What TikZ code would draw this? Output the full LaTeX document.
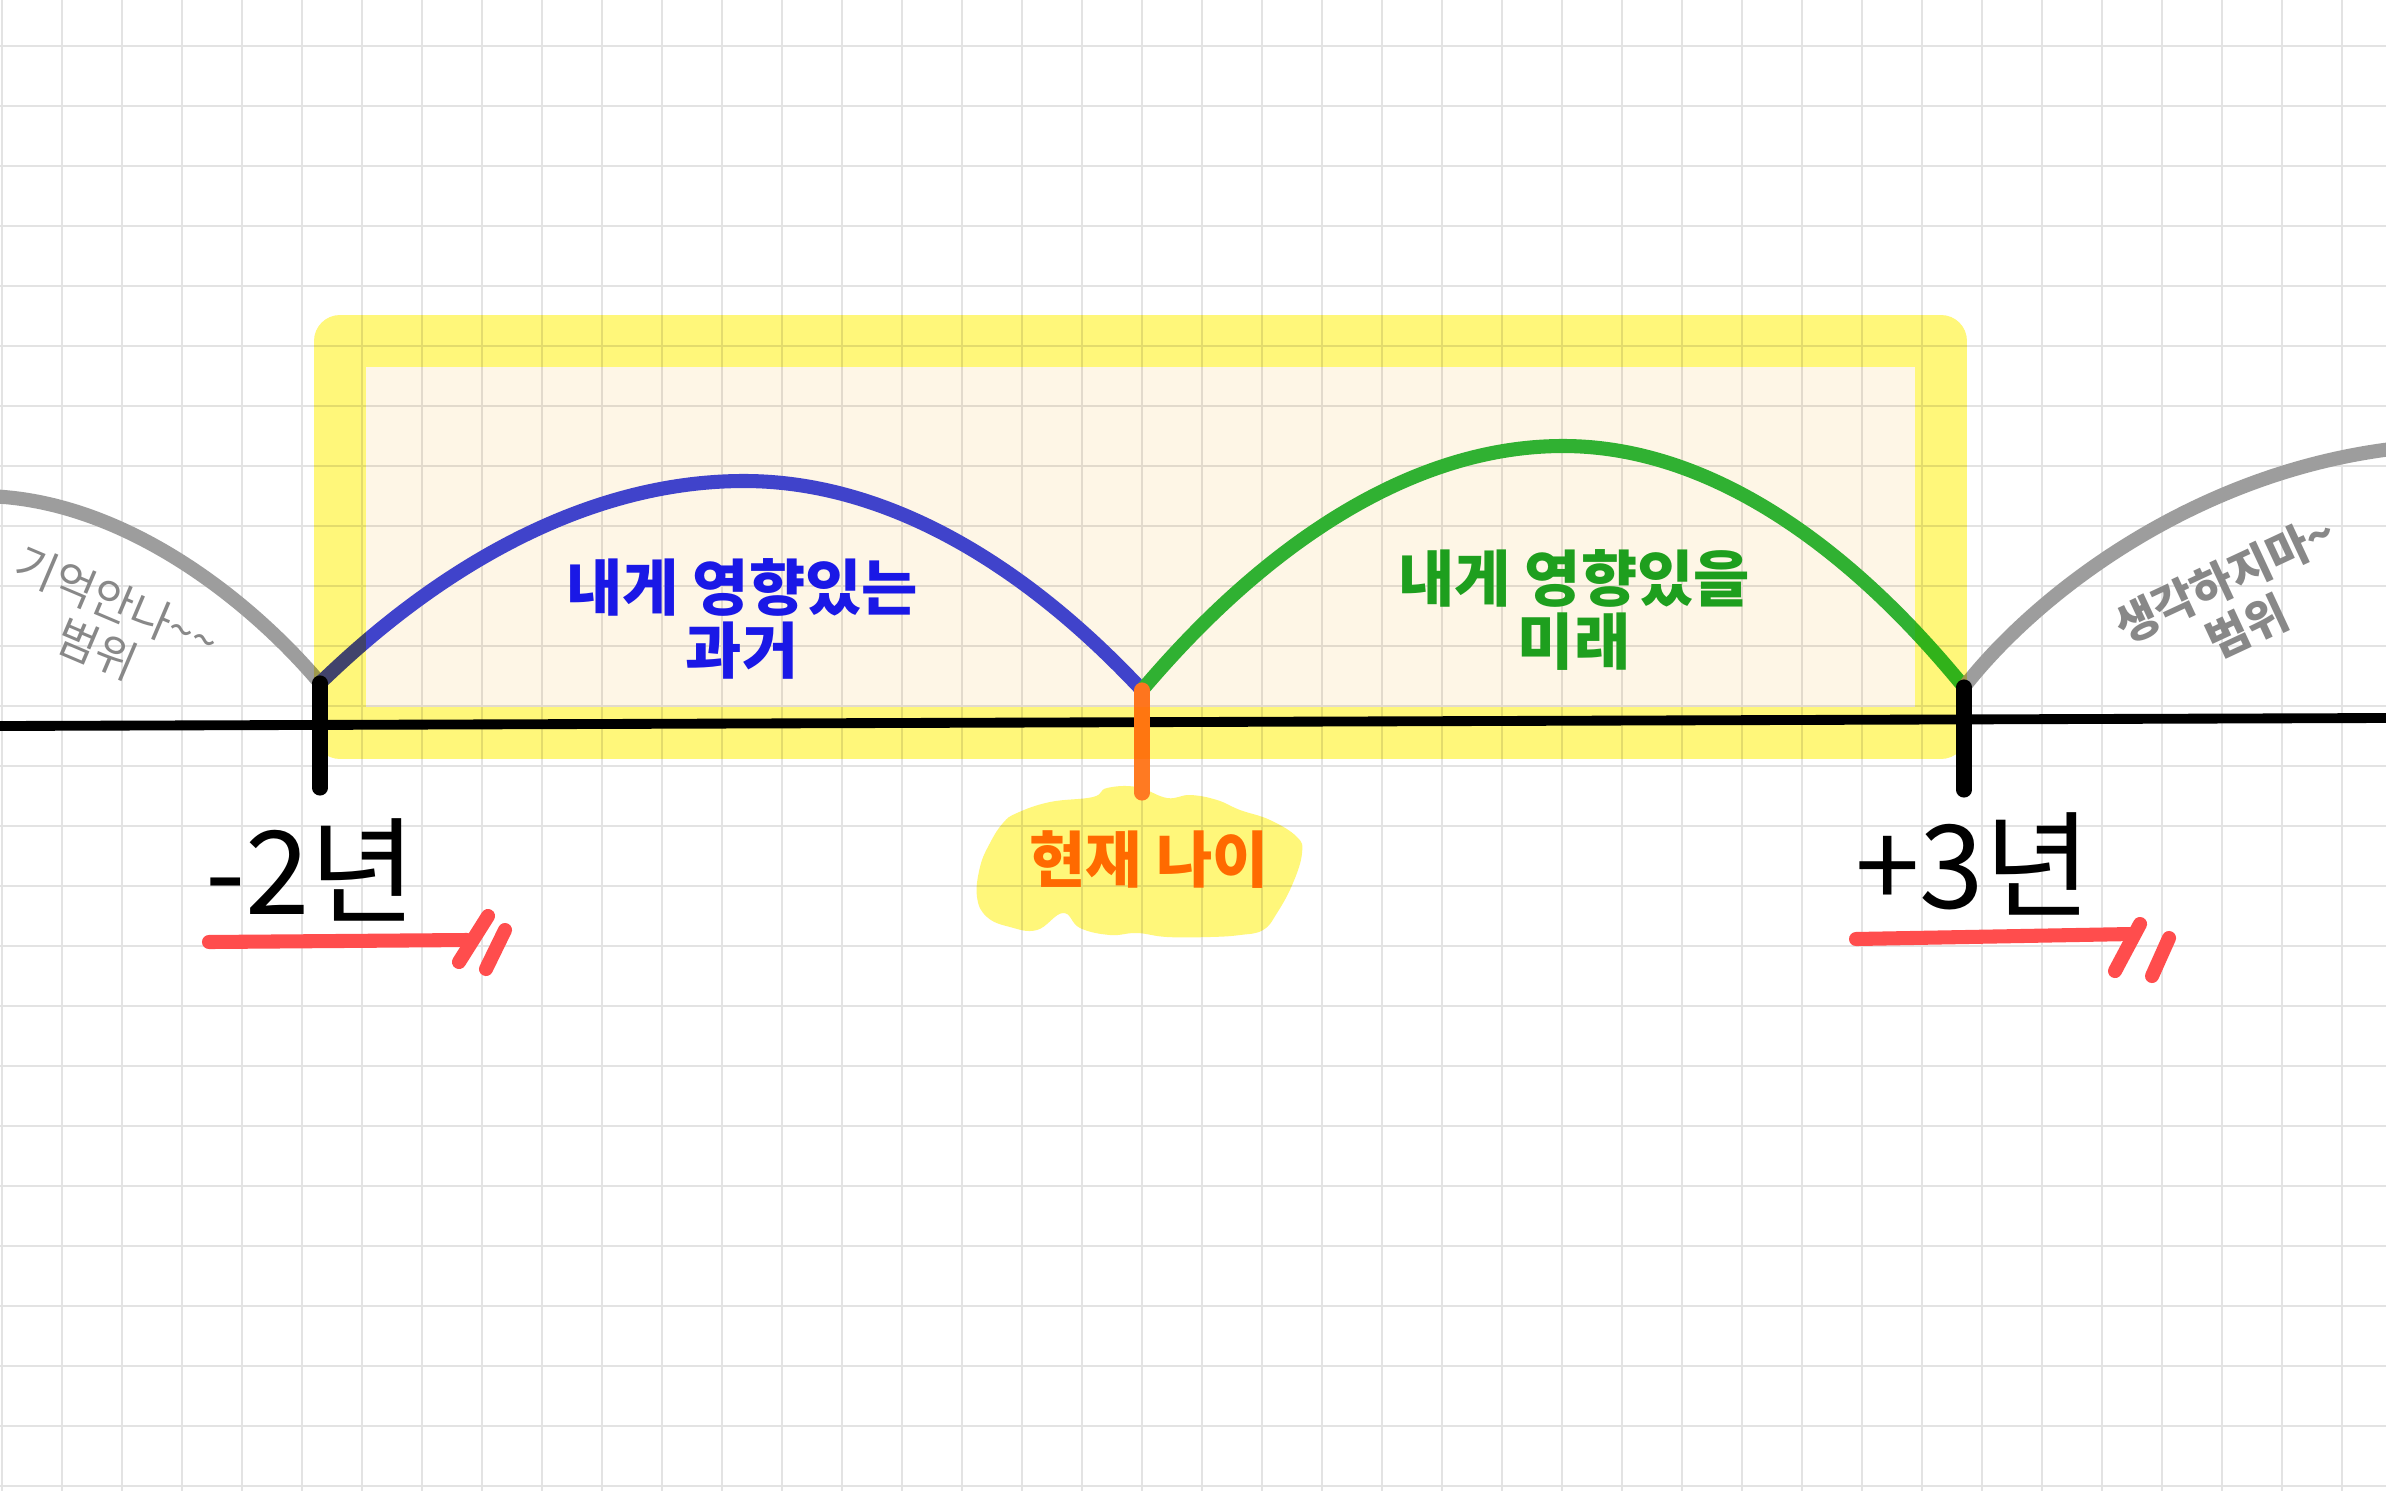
\documentclass[tikz,border=0pt]{standalone}
\usepackage{fontspec}
\newfontfamily\kr{Noto Sans CJK KR}
\definecolor{gridgray}{HTML}{E3E3E3}
\definecolor{bandyellow}{HTML}{FFF77A}
\definecolor{cream}{HTML}{FEF6E6}
\definecolor{pastblue}{HTML}{4146E2}
\definecolor{pasttext}{HTML}{1A18E6}
\definecolor{futgreen}{HTML}{31B838}
\definecolor{futtext}{HTML}{1E9F1E}
\definecolor{rangegray}{HTML}{9D9D9D}
\definecolor{rangetext}{HTML}{888888}
\definecolor{nowtick}{HTML}{FF7A22}
\definecolor{nowtext}{HTML}{FF6A00}
\definecolor{markred}{HTML}{FF4D4D}

\begin{document}
\begin{tikzpicture}[x=0.01cm,y=-0.01cm,
  span/.style={line width=4pt},
  yearmark/.style={line width=4.3pt,line cap=round},
  cut/.style={markred,line width=4pt,line cap=round},
  big/.style={font=\kr\fontsize{33}{36}\selectfont},
  note/.style={font=\kr\bfseries\fontsize{17.4}{17.8}\selectfont,align=center},
  side/.style={rangetext,font=\kr\fontsize{12.8}{14.5}\selectfont,align=center}]
\fill[white] (0,0) rectangle (2386,1491);
\useasboundingbox (0,0) rectangle (2386,1491);
\foreach \gx in {2,62,...,2386} \draw[gridgray,line width=0.7pt] (\gx,0) -- (\gx,1491);
\foreach \gy in {46,106,...,1491} \draw[gridgray,line width=0.7pt] (0,\gy) -- (2386,\gy);

\coordinate (past) at (320,683);
\coordinate (now) at (1142,690);
\coordinate (fut) at (1964,687);
\coordinate (lend) at (-20,496);
\coordinate (rend) at (2400,448);
\coordinate (axl) at (0,726);
\coordinate (axr) at (2386,718);

\begin{scope}[blend mode=multiply]
\fill[bandyellow] plot[smooth cycle,tension=0.7] coordinates {(1017,813) (1050,802) (1093,797) (1107,788) (1137,787) (1167,798) (1190,795) (1217,800) (1240,810) (1270,820) (1297,837) (1302,853) (1293,883) (1277,913) (1263,930) (1240,935) (1210,937) (1167,937) (1137,933) (1110,935) (1080,928) (1063,913) (1037,930) (1010,927) (987,917) (977,897) (980,867) (990,843) (1003,823)};
\end{scope}

\draw[span,rangegray] (lend) .. controls (120,496) and (250,600) .. (past);
\draw[span,pastblue] (past) parabola bend (744,481) (now);
\draw[span,futgreen] (now) parabola bend (1563,446) (fut);
\draw[span,rangegray] (fut) .. controls (2040,590) and (2200,470) .. (rend);
\draw[line width=2.8pt] (axl) -- (axr);
\draw[yearmark] (past) -- ++(0,105);
\draw[yearmark,nowtick] (now) -- ++(0,103);
\draw[yearmark] (fut) -- ++(0,103);

\begin{scope}[blend mode=multiply]
\fill[cream] (366,367) rectangle (1915,707);
\draw[bandyellow,line width=14.8pt,line join=round] (340,341) rectangle (1941,733);
\end{scope}

\node[note,pasttext] (pastlbl) at (742,619) {내게 영향있는\\과거};
\node[note,futtext] (futlbl) at (1574,610) {내게 영향있을\\미래};
\node[note,nowtext] (nowlbl) at (1149,860) {현재 나이};
\node[big] (minus) at (311,870) {-2년};
\node[big] (plus) at (1973,864) {+3년};
\node[side,rotate=-23] (forget) at (107,626) {기억안나\textasciitilde\textasciitilde\\범위};
\node[side,font=\kr\bfseries\fontsize{12.9}{15}\selectfont,rotate=25] (dream) at (2236,603) {생각하지마\textasciitilde\\범위};

\draw[cut] (209,942) -- (467,940);
\draw[cut] (459,962) -- (488,916);
\draw[cut] (486,969) -- (505,930);
\draw[cut] (1856,939) -- (2132,934);
\draw[cut] (2115,971) -- (2140,924);
\draw[cut] (2152,976) -- (2169,938);
\end{tikzpicture}
\end{document}
